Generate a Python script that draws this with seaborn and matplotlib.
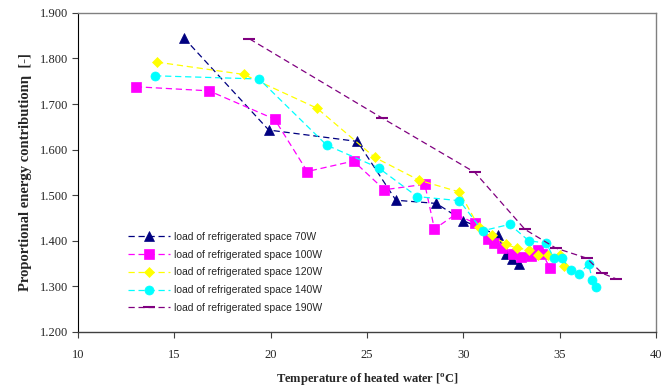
import matplotlib
matplotlib.use("Agg")
import matplotlib.pyplot as plt
import seaborn as sns
import pandas as pd

# ---- data ----
x_70 = [15.5, 19.9, 24.5, 26.5, 28.6, 30.0, 31.8, 32.2, 32.5, 32.9]
y_70 = [1.845, 1.643, 1.618, 1.489, 1.482, 1.444, 1.412, 1.370, 1.360, 1.350]

x_100 = [13.0, 16.8, 20.2, 21.9, 24.3, 25.9, 28.0, 28.5, 29.6, 30.6, 31.3, 31.6,
         32.0, 32.6, 33.0, 33.5, 33.9, 34.1, 34.5]
y_100 = [1.738, 1.729, 1.667, 1.552, 1.575, 1.512, 1.524, 1.426, 1.458, 1.439, 1.404, 1.395,
         1.385, 1.370, 1.365, 1.366, 1.380, 1.372, 1.340]

x_120 = [14.1, 18.6, 22.4, 25.4, 27.7, 29.8, 30.8, 31.5, 32.2, 32.8, 33.4, 33.9, 34.4, 35.0, 35.2]
y_120 = [1.792, 1.765, 1.691, 1.583, 1.533, 1.507, 1.431, 1.413, 1.392, 1.384, 1.380, 1.369,
         1.369, 1.369, 1.345]

x_140 = [14.0, 19.4, 22.9, 25.6, 27.6, 29.8, 31.0, 32.4, 33.4, 34.3, 34.7, 35.1, 35.6, 36.0,
         36.5, 36.7, 36.9]
y_140 = [1.762, 1.755, 1.610, 1.560, 1.497, 1.488, 1.422, 1.436, 1.400, 1.395, 1.362, 1.362,
         1.336, 1.327, 1.349, 1.314, 1.299]

x_190 = [18.9, 25.8, 30.6, 33.2, 34.8, 36.4, 37.2, 37.9]
y_190 = [1.843, 1.669, 1.550, 1.425, 1.384, 1.362, 1.329, 1.317]

labels = ["load of refrigerated space 70W", "load of refrigerated space 100W",
          "load of refrigerated space 120W", "load of refrigerated space 140W",
          "load of refrigerated space 190W"]

x_ticks = [10, 15, 20, 25, 30, 35, 40]
y_ticks = [1.2, 1.3, 1.4, 1.5, 1.6, 1.7, 1.8, 1.9]

# ---- style ----
sns.set_style("white")
plt.rcParams["font.family"] = ["Liberation Serif", "DejaVu Serif"]

series = [(x_70, y_70), (x_100, y_100), (x_120, y_120), (x_140, y_140), (x_190, y_190)]
colors = ["#000080", "#FF00FF", "#FFFF00", "#00FFFF", "#800080"]
markers = ["^", "s", "D", "o", "_"]
msizes = [7.5, 7, 5.5, 6.5, 8]

fig = plt.figure(figsize=(6.67, 3.91), dpi=100)
ax = fig.add_axes([0.117, 0.151, 0.8665, 0.816])

for (xs, ys), c, m, ms, lab in zip(series, colors, markers, msizes, labels):
    df = pd.DataFrame({"x": xs, "y": ys})
    sns.lineplot(data=df, x="x", y="y", ax=ax, sort=False, color=c, marker=m,
                 markersize=ms, markeredgecolor=c, markeredgewidth=1.5 if m == "_" else 0.5,
                 linewidth=0.9, dashes=(5, 3), label=lab)

ax.set_xlim(10, 40)
ax.set_ylim(1.2, 1.9)
ax.set_xticks(x_ticks)
ax.set_yticks(y_ticks)
ax.set_xticklabels([str(t) for t in x_ticks], fontsize=9)
ax.set_yticklabels([f"{t:.3f}" for t in y_ticks], fontsize=9)
ax.tick_params(axis="both", direction="out", length=4, width=0.8, color="#404040",
               bottom=True, left=True, pad=3)
ax.tick_params(axis="x", pad=8)

for s in ["top", "right"]:
    ax.spines[s].set_color("#808080")
    ax.spines[s].set_linewidth(1.0)
ax.spines["left"].set_color("black")
ax.spines["left"].set_linewidth(0.8)
ax.spines["bottom"].set_color("#404040")
ax.spines["bottom"].set_linewidth(1.0)

ax.set_xlabel("Temperature of heated water [$^\\mathregular{o}$C]", fontsize=9, fontweight="bold", labelpad=8)
ax.set_ylabel("Proportional energy contributionη  [-]", fontsize=10.5, fontweight="bold", labelpad=6)

leg = ax.legend(loc="lower left", bbox_to_anchor=(0.07, 0.03), frameon=False,
                prop={"family": "Liberation Sans", "size": 7.5}, handlelength=4,
                labelspacing=0.75, handletextpad=0.4)

fig.savefig("out.png", dpi=100)
